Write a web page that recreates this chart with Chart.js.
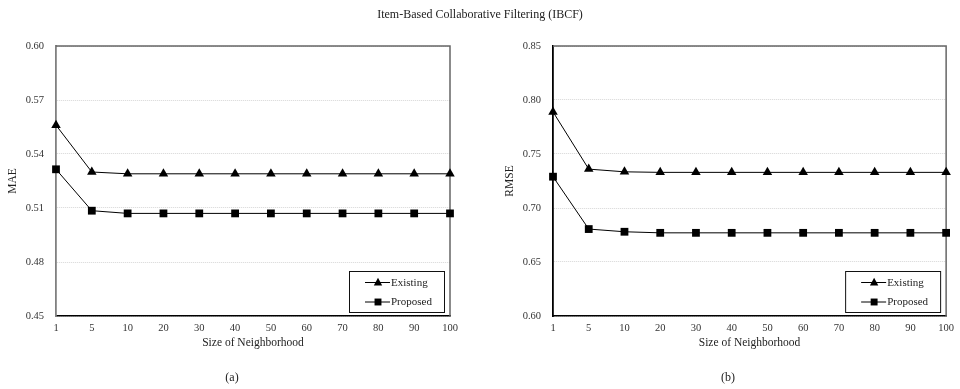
<!DOCTYPE html>
<html>
<head>
<meta charset="utf-8">
<script src="https://cdn.jsdelivr.net/npm/chart.js@4.4.0/dist/chart.umd.min.js"></script>
<style>
  body { margin: 0; background: #fff; width: 960px; height: 389px; position: relative; overflow: hidden; font-family: "Liberation Serif", serif; }
  .box { position: absolute; top: 0; height: 389px; }
  .lbl { position: absolute; color: #222; font-size: 12px; transform: translate(-50%, -50%); white-space: nowrap; }
</style>
</head>
<body>
<div class="box" style="left:0;width:480px"><canvas id="maeChart"></canvas></div>
<div class="box" style="left:497px;width:463px"><canvas id="rmseChart"></canvas></div>
<div class="lbl" style="left:480px;top:14px">Item-Based Collaborative Filtering (IBCF)</div>
<div class="lbl" style="left:232px;top:377px">(a)</div>
<div class="lbl" style="left:728px;top:377px">(b)</div>
<script>
const categories = ['1', '5', '10', '20', '30', '40', '50', '60', '70', '80', '90', '100']

const maeExisting = [0.556, 0.530, 0.529, 0.529, 0.529, 0.529, 0.529, 0.529, 0.529, 0.529, 0.529, 0.529]
const maeProposed = [0.5315, 0.5085, 0.507, 0.507, 0.507, 0.507, 0.507, 0.507, 0.507, 0.507, 0.507, 0.507]
const maeTicks = [0.45, 0.48, 0.51, 0.54, 0.57, 0.60]

const rmseExisting = [0.789, 0.736, 0.7335, 0.733, 0.733, 0.733, 0.733, 0.733, 0.733, 0.733, 0.733, 0.733]
const rmseProposed = [0.729, 0.6805, 0.678, 0.677, 0.677, 0.677, 0.677, 0.677, 0.677, 0.677, 0.677, 0.677]
const rmseTicks = [0.60, 0.65, 0.70, 0.75, 0.80, 0.85]

const seriesNames = ['Existing', 'Proposed']
const FONT = '"Liberation Serif", "Times New Roman", serif'

function marker(ctx, style, x, y, r) {
  ctx.beginPath()
  if (style === 'triangle') {
    ctx.moveTo(x, y - r)
    ctx.lineTo(x + r * 0.87, y + r * 0.6)
    ctx.lineTo(x - r * 0.87, y + r * 0.6)
  } else {
    const s = r * 0.72
    ctx.rect(x - s, y - s, 2 * s, 2 * s)
  }
  ctx.closePath()
  ctx.fill()
}

// frame on top and right (under the lines), boxed legend on top of everything
const framePlugin = {
  id: 'frame',
  beforeDatasetsDraw(chart) {
    const ctx = chart.ctx
    const a = chart.chartArea
    ctx.save()
    ctx.strokeStyle = '#666'
    ctx.lineWidth = 1.5
    ctx.beginPath()
    ctx.moveTo(a.left, a.top)
    ctx.lineTo(a.right, a.top)
    ctx.lineTo(a.right, a.bottom)
    ctx.stroke()
    ctx.restore()
  },
  afterDraw(chart) {
    const ctx = chart.ctx
    const a = chart.chartArea
    ctx.save()
    const w = 95, h = 41
    const bx = a.right - 6 - w, by = a.bottom - 4 - h
    ctx.fillStyle = '#fff'
    ctx.fillRect(bx, by, w, h)
    ctx.strokeStyle = '#111'
    ctx.lineWidth = 1
    ctx.strokeRect(bx + 0.5, by + 0.5, w, h)
    chart.data.datasets.forEach((ds, i) => {
      const yy = by + 11.5 + i * 19.5
      ctx.strokeStyle = '#000'
      ctx.beginPath()
      ctx.moveTo(bx + 16, yy)
      ctx.lineTo(bx + 41, yy)
      ctx.stroke()
      ctx.fillStyle = '#000'
      marker(ctx, ds.pointStyle, bx + 29, yy, 4.8)
      ctx.fillStyle = '#222'
      ctx.font = '11px ' + FONT
      ctx.textBaseline = 'middle'
      ctx.fillText(ds.label, bx + 42, yy + 0.5)
    })
    ctx.restore()
  }
}

function makeChart(id, yTitle, existing, proposed, ticks, padRight, yAxisColor) {
  return new Chart(document.getElementById(id).getContext('2d'), {
    type: 'line',
    data: {
      labels: categories,
      datasets: [{
        label: seriesNames[0],
        data: existing,
        borderColor: '#000',
        backgroundColor: '#000',
        borderWidth: 1,
        pointStyle: 'triangle',
        pointRadius: 5.5,
        pointBorderWidth: 0,
        tension: 0,
        clip: false
      }, {
        label: seriesNames[1],
        data: proposed,
        borderColor: '#000',
        backgroundColor: '#000',
        borderWidth: 1,
        pointStyle: 'rect',
        pointRadius: 5.5,
        pointBorderWidth: 0,
        tension: 0,
        clip: false
      }]
    },
    options: {
      responsive: true,
      maintainAspectRatio: false,
      animation: false,
      layout: { padding: { top: 46, right: padRight, bottom: 35, left: 0 } },
      plugins: { legend: { display: false }, tooltip: { enabled: false } },
      scales: {
        x: {
          offset: false,
          grid: { display: false, drawTicks: false },
          border: { color: '#000', width: 1.5 },
          ticks: { padding: 6, color: '#333', font: { family: FONT, size: 10.5 }, maxRotation: 0, autoSkip: false },
          title: { display: true, text: 'Size of Neighborhood', color: '#222', font: { family: FONT, size: 11.5 }, padding: 4 },
          afterFit: s => { s.height = 38 }
        },
        y: {
          min: ticks[0],
          max: ticks[ticks.length - 1],
          afterBuildTicks: s => { s.ticks = ticks.map(v => ({ value: v })) },
          grid: { color: '#d6d6d6', lineWidth: 1, drawTicks: false },
          border: { color: yAxisColor, width: 1.8, dash: [1, 1] },
          ticks: { padding: 12, color: '#333', font: { family: FONT, size: 10.5 }, callback: v => Number(v).toFixed(2) },
          title: { display: true, text: yTitle, color: '#222', font: { family: FONT, size: 11.5 }, padding: 6 },
          afterFit: s => { s.width = 56 }
        }
      }
    },
    plugins: [framePlugin]
  })
}

makeChart('maeChart', 'MAE', maeExisting, maeProposed, maeTicks, 30, '#808080')
makeChart('rmseChart', 'RMSE', rmseExisting, rmseProposed, rmseTicks, 13, '#000')
</script>
</body>
</html>
